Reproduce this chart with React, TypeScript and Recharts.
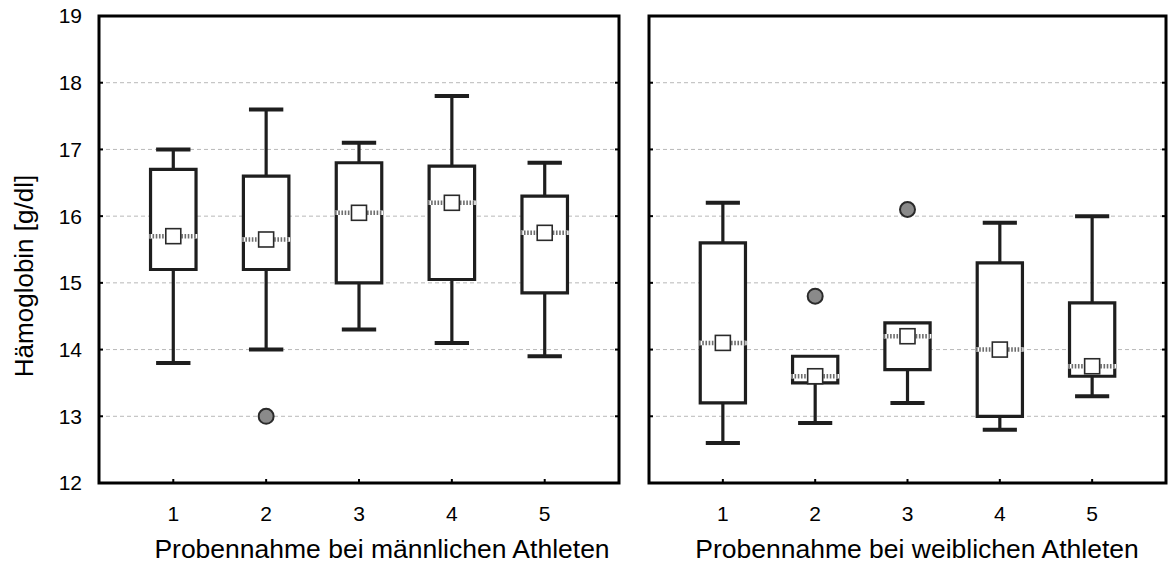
import React from 'react';
import {
  ComposedChart,
  XAxis,
  YAxis,
  CartesianGrid,
  ReferenceArea,
  ReferenceLine,
  Scatter,
} from 'recharts';

// Sample numbers on the x axis
const sampleLabels = ['1', '2', '3', '4', '5'];
const yTicks = [12, 13, 14, 15, 16, 17, 18, 19];

// Hemoglobin, male athletes (g/dl)
const maleLow = [13.8, 14.0, 14.3, 14.1, 13.9];
const maleQ1 = [15.2, 15.2, 15.0, 15.05, 14.85];
const maleMedian = [15.7, 15.65, 16.05, 16.2, 15.75];
const maleQ3 = [16.7, 16.6, 16.8, 16.75, 16.3];
const maleHigh = [17.0, 17.6, 17.1, 17.8, 16.8];
const maleOutliers = [{ sample: 2, value: 13.0 }];

// Hemoglobin, female athletes (g/dl)
const femaleLow = [12.6, 12.9, 13.2, 12.8, 13.3];
const femaleQ1 = [13.2, 13.5, 13.7, 13.0, 13.6];
const femaleMedian = [14.1, 13.6, 14.2, 14.0, 13.75];
const femaleQ3 = [15.6, 13.9, 14.4, 15.3, 14.7];
const femaleHigh = [16.2, 13.9, 14.4, 15.9, 16.0];
const femaleOutliers = [
  { sample: 2, value: 14.8 },
  { sample: 3, value: 16.1 },
];

const FONT = '"Liberation Sans", Arial, Helvetica, sans-serif';
const INK = '#1e1e1e';
const BOX_HALF = 0.245;
const MEDIAN_HALF = 0.258;
const CAP_HALF = 0.185;
const X_DOMAIN: [number, number] = [0.2, 5.8];
const Y_DOMAIN: [number, number] = [12, 19];

type Outlier = { sample: number; value: number };
type Stats = {
  low: number[];
  q1: number[];
  median: number[];
  q3: number[];
  high: number[];
  outliers: Outlier[];
};

const male: Stats = {
  low: maleLow,
  q1: maleQ1,
  median: maleMedian,
  q3: maleQ3,
  high: maleHigh,
  outliers: maleOutliers,
};
const female: Stats = {
  low: femaleLow,
  q1: femaleQ1,
  median: femaleMedian,
  q3: femaleQ3,
  high: femaleHigh,
  outliers: femaleOutliers,
};

const MedianMarker = (p: any) => (
  <rect
    x={p.cx - 7.5}
    y={p.cy - 7.5}
    width={15}
    height={15}
    fill="#fff"
    stroke="#2a2a2a"
    strokeWidth={1.6}
  />
);

const OutlierMarker = (p: any) => (
  <circle cx={p.cx} cy={p.cy} r={7.5} fill="#8a8a8a" stroke="#2a2a2a" strokeWidth={2} />
);

const blank = () => '';

type PanelProps = {
  stats: Stats;
  width: number;
  marginRight: number;
  leftAxisWidth: number;
  showYLabels: boolean;
};

function BoxPanel({ stats, width, marginRight, leftAxisWidth, showYLabels }: PanelProps) {
  const positions = sampleLabels.map((_, i) => i + 1);
  const medianPoints = positions.map((x, i) => ({ x, y: stats.median[i] }));
  const outlierPoints = stats.outliers.map((o) => ({ x: o.sample, y: o.value }));
  const tickStyle = { fill: '#000', fontSize: 21, fontFamily: FONT };
  const tickLine = { stroke: '#000', strokeWidth: 2 };

  return (
    <ComposedChart
      width={width}
      height={575}
      margin={{ top: 16, right: marginRight, bottom: 0, left: 0 }}
    >
      <CartesianGrid horizontal vertical={false} stroke="#b8b8b8" strokeDasharray="4 3" />
      <XAxis
        dataKey="x"
        type="number"
        domain={X_DOMAIN}
        ticks={positions}
        interval={0}
        allowDataOverflow
        tickFormatter={(v: number) => sampleLabels[v - 1]}
        axisLine={false}
        tickSize={-4}
        tickMargin={27}
        height={92}
        tick={tickStyle}
        tickLine={tickLine}
      />
      <YAxis
        dataKey="y"
        type="number"
        domain={Y_DOMAIN}
        ticks={yTicks}
        interval={0}
        allowDataOverflow
        axisLine={false}
        width={leftAxisWidth}
        tickSize={-4}
        tickMargin={21}
        tick={tickStyle}
        tickFormatter={showYLabels ? undefined : blank}
        tickLine={tickLine}
      />
      <YAxis
        yAxisId="r"
        orientation="right"
        type="number"
        domain={Y_DOMAIN}
        ticks={yTicks}
        interval={0}
        allowDataOverflow
        axisLine={false}
        width={1}
        tickSize={-4}
        tick={tickStyle}
        tickFormatter={blank}
        tickLine={tickLine}
      />

      {/* boxes: first to third quartile */}
      {positions.map((x, i) => (
        <ReferenceArea
          key={`box-${x}`}
          x1={x - BOX_HALF}
          x2={x + BOX_HALF}
          y1={stats.q1[i]}
          y2={stats.q3[i]}
          fill="#fff"
          fillOpacity={1}
          stroke={INK}
          strokeWidth={3.2}
        />
      ))}

      {/* whiskers and caps */}
      {positions.map((x, i) =>
        stats.high[i] > stats.q3[i] ? (
          <ReferenceLine
            key={`wu-${x}`}
            segment={[
              { x, y: stats.q3[i] },
              { x, y: stats.high[i] },
            ]}
            stroke={INK}
            strokeWidth={3.2}
          />
        ) : null,
      )}
      {positions.map((x, i) =>
        stats.high[i] > stats.q3[i] ? (
          <ReferenceLine
            key={`cu-${x}`}
            segment={[
              { x: x - CAP_HALF, y: stats.high[i] },
              { x: x + CAP_HALF, y: stats.high[i] },
            ]}
            stroke={INK}
            strokeWidth={4}
          />
        ) : null,
      )}
      {positions.map((x, i) =>
        stats.low[i] < stats.q1[i] ? (
          <ReferenceLine
            key={`wl-${x}`}
            segment={[
              { x, y: stats.q1[i] },
              { x, y: stats.low[i] },
            ]}
            stroke={INK}
            strokeWidth={3.2}
          />
        ) : null,
      )}
      {positions.map((x, i) =>
        stats.low[i] < stats.q1[i] ? (
          <ReferenceLine
            key={`cl-${x}`}
            segment={[
              { x: x - CAP_HALF, y: stats.low[i] },
              { x: x + CAP_HALF, y: stats.low[i] },
            ]}
            stroke={INK}
            strokeWidth={4}
          />
        ) : null,
      )}

      {/* median: white band with grey hatching */}
      {positions.map((x, i) => (
        <ReferenceLine
          key={`mw-${x}`}
          segment={[
            { x: x - MEDIAN_HALF, y: stats.median[i] },
            { x: x + MEDIAN_HALF, y: stats.median[i] },
          ]}
          stroke="#fff"
          strokeWidth={4.5}
        />
      ))}
      {positions.map((x, i) => (
        <ReferenceLine
          key={`mg-${x}`}
          segment={[
            { x: x - MEDIAN_HALF, y: stats.median[i] },
            { x: x + MEDIAN_HALF, y: stats.median[i] },
          ]}
          stroke="#6e6e6e"
          strokeWidth={4.5}
          strokeDasharray="1.6 1.6"
        />
      ))}

      <Scatter data={medianPoints} dataKey="y" shape={MedianMarker} isAnimationActive={false} />
      <Scatter data={outlierPoints} dataKey="y" shape={OutlierMarker} isAnimationActive={false} />

      {/* panel frame */}
      <ReferenceArea
        x1={X_DOMAIN[0]}
        x2={X_DOMAIN[1]}
        y1={Y_DOMAIN[0]}
        y2={Y_DOMAIN[1]}
        fill="none"
        stroke="#000"
        strokeWidth={3}
        ifOverflow="visible"
      />
    </ComposedChart>
  );
}

export default function App() {
  return (
    <div
      style={{
        position: 'absolute',
        left: 0,
        top: 0,
        width: 1168,
        height: 575,
        background: '#fff',
        overflow: 'hidden',
        fontFamily: FONT,
      }}
    >
      <div style={{ position: 'absolute', left: 0, top: 0 }}>
        <BoxPanel stats={male} width={640} marginRight={20} leftAxisWidth={99} showYLabels />
      </div>
      <div style={{ position: 'absolute', left: 620, top: 0 }}>
        <BoxPanel stats={female} width={548} marginRight={1} leftAxisWidth={29} showYLabels={false} />
      </div>
      <svg
        width={1168}
        height={575}
        style={{ position: 'absolute', left: 0, top: 0, pointerEvents: 'none' }}
      >
        <text
          x={24}
          y={276}
          transform="rotate(-90 24 276)"
          textAnchor="middle"
          dominantBaseline="central"
          fontSize={26}
          fontFamily={FONT}
          fill="#000"
        >
          Hämoglobin [g/dl]
        </text>
        <text x={382} y={558} textAnchor="middle" fontSize={26.5} fontFamily={FONT} fill="#000">
          Probennahme bei männlichen Athleten
        </text>
        <text x={917} y={558} textAnchor="middle" fontSize={26.5} fontFamily={FONT} fill="#000">
          Probennahme bei weiblichen Athleten
        </text>
      </svg>
    </div>
  );
}
